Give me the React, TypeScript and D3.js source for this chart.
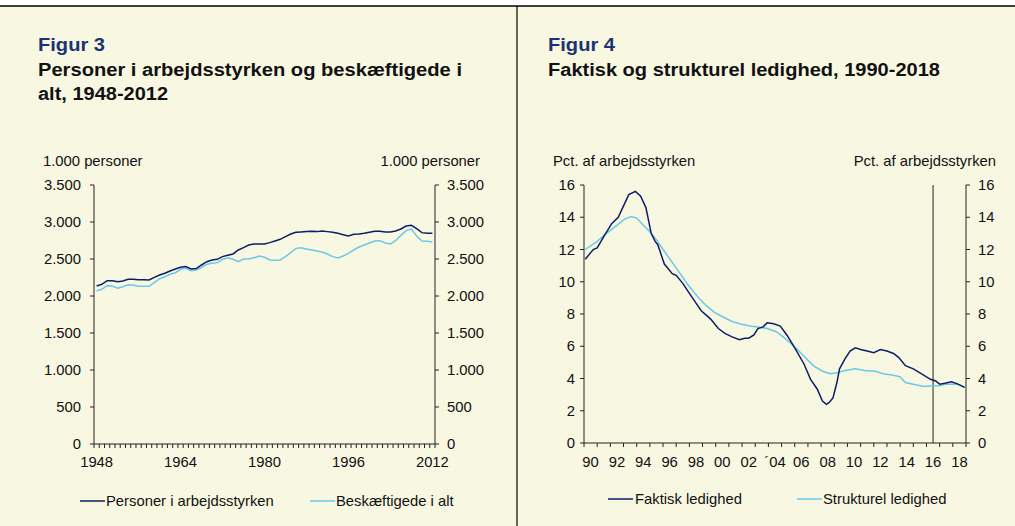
import * as d3 from "d3";
import { useMemo } from "react";

// Figur 3: annual, 1000 persons
const years3 = d3.range(1948, 2013);
const arbejdsstyrke = [
  2135, 2158, 2207, 2207, 2194, 2203, 2225, 2225, 2221, 2221, 2216, 2252, 2284, 2307, 2338, 2365, 2388,
  2397, 2365, 2370, 2419, 2464, 2487, 2496, 2532, 2550, 2568, 2622, 2653, 2689, 2703, 2703, 2703,
  2721, 2744, 2766, 2802, 2838, 2861, 2865, 2870, 2874, 2870, 2879, 2870, 2861, 2847, 2829, 2811,
  2834, 2838, 2847, 2861, 2874, 2874, 2865, 2865, 2879, 2906, 2946, 2955, 2910, 2856, 2847, 2847,
];
const beskaeftigede = [
  2072, 2090, 2140, 2135, 2104, 2126, 2153, 2144, 2131, 2131, 2131, 2180, 2234, 2261, 2293, 2315, 2361,
  2374, 2343, 2352, 2388, 2428, 2442, 2451, 2496, 2518, 2496, 2464, 2500, 2500, 2518, 2541, 2523,
  2487, 2482, 2487, 2532, 2586, 2644, 2653, 2635, 2622, 2608, 2595, 2568, 2532, 2514, 2541, 2577,
  2622, 2662, 2689, 2716, 2744, 2748, 2716, 2703, 2748, 2820, 2883, 2906, 2811, 2744, 2739, 2730,
];
const ticks3 = [0, 500, 1000, 1500, 2000, 2500, 3000, 3500];
const labelYears3 = [1948, 1964, 1980, 1996, 2012];

// Figur 4: pct. of labour force, read at decimal years
const faktiskT = [
  1990.1, 1990.7, 1991.0, 1991.5, 1992.1, 1992.6, 1993.4, 1993.9, 1994.3, 1994.7, 1995.1, 1995.4, 1995.6,
  1996.1, 1996.7, 1997.0, 1997.5, 1997.9, 1998.4, 1998.9, 1999.6, 2000.2, 2000.7, 2001.2, 2001.8, 2002.2,
  2002.5, 2002.9, 2003.2, 2003.6, 2003.9, 2004.4, 2004.9, 2005.4, 2006.0, 2006.7, 2007.2, 2007.7, 2008.1,
  2008.4, 2008.6, 2008.9, 2009.2, 2009.4, 2009.8, 2010.2, 2010.6, 2011.0, 2011.5, 2012.0, 2012.5, 2013.0,
  2013.5, 2013.9, 2014.4, 2015.0, 2015.6, 2016.3, 2016.7, 2017.0, 2017.4, 2017.9, 2018.4, 2018.9,
];
const faktiskV = [
  11.4, 12.0, 12.1, 12.8, 13.6, 14.0, 15.4, 15.6, 15.3, 14.6, 13.0, 12.5, 12.3,
  11.1, 10.5, 10.4, 9.9, 9.4, 8.8, 8.2, 7.7, 7.1, 6.8, 6.6, 6.4, 6.5,
  6.5, 6.7, 7.1, 7.2, 7.45, 7.4, 7.25, 6.7, 5.9, 4.9, 3.95, 3.35, 2.6,
  2.4, 2.5, 2.8, 3.75, 4.6, 5.2, 5.7, 5.9, 5.8, 5.7, 5.6, 5.8, 5.7,
  5.55, 5.3, 4.8, 4.6, 4.3, 3.95, 3.85, 3.65, 3.7, 3.8, 3.65, 3.45,
];
const strukturelT = [
  1990.1, 1991.0, 1991.7, 1992.5, 1993.1, 1993.6, 1994.0, 1994.5, 1995.0, 1995.5, 1996.0, 1996.7, 1997.3,
  1997.9, 1998.6, 1999.3, 1999.9, 2000.6, 2001.2, 2001.8, 2002.6, 2003.2, 2003.9, 2004.6, 2005.1, 2005.6,
  2006.2, 2006.8, 2007.4, 2008.1, 2008.7, 2009.2, 2009.8, 2010.6, 2011.3, 2012.1, 2012.7, 2013.5, 2014.0,
  2014.4, 2015.0, 2015.8, 2016.5, 2017.0, 2017.5, 2018.3, 2018.9,
];
const strukturelV = [
  12.0, 12.5, 13.0, 13.5, 13.9, 14.05, 13.95, 13.5, 13.1, 12.6, 12.0, 11.2, 10.5,
  9.8, 9.1, 8.5, 8.1, 7.8, 7.55, 7.4, 7.25, 7.2, 7.1, 6.9, 6.6, 6.25,
  5.8, 5.3, 4.8, 4.45, 4.3, 4.35, 4.5, 4.6, 4.5, 4.45, 4.3, 4.2, 4.1,
  3.75, 3.65, 3.5, 3.55, 3.55, 3.65, 3.65, 3.45,
];
const ticks4 = [0, 2, 4, 6, 8, 10, 12, 14, 16];
const labelYears4 = ["90", "92", "94", "96", "98", "00", "02", "´04", "06", "08", "10", "12", "14", "16", "18"];
const forecastStart = 2016.5;

const BG = "#f8f7e1";
const DARK = "#0b1f66";
const LIGHT = "#6cc8e8";
const TITLE_BLUE = "#1b3373";
const FONT = "'Liberation Sans', Arial, Helvetica, sans-serif";
const FS = 14.8;
const TS = 17.5;

function Title({ x, y, w, fill = "#111", children }: { x: number; y: number; w: number; fill?: string; children: string }) {
  return (
    <text x={x} y={y} fontSize={TS} fontWeight="bold" fill={fill} textLength={w} lengthAdjust="spacingAndGlyphs">
      {children}
    </text>
  );
}

function Figur3() {
  const left = 94, right = 435, top = 185, bottom = 444;
  const x = useMemo(() => d3.scaleBand<number>().domain(years3).range([left, right]), []);
  const y = useMemo(() => d3.scaleLinear().domain([0, 3500]).range([bottom, top]), []);
  const cx = (yr: number) => (x(yr) ?? 0) + x.bandwidth() / 2;
  const line = d3.line<number>().x((_, i) => cx(years3[i])).y((v) => y(v));
  const fmt = (v: number) => d3.format(",")(v).replace(/,/g, ".");
  const boundaries = [...years3.map((yr) => x(yr) ?? 0), right];

  return (
    <g fontFamily={FONT} fontSize={FS} fill="#111">
      <Title x={38} y={51} w={67} fill={TITLE_BLUE}>Figur 3</Title>
      <Title x={38} y={76} w={424}>Personer i arbejdsstyrken og beskæftigede i</Title>
      <Title x={38} y={100} w={130}>alt, 1948-2012</Title>

      <text x={43} y={166}>1.000 personer</text>
      <text x={480} y={166} textAnchor="end">1.000 personer</text>

      {ticks3.map((t) => (
        <g key={t}>
          <line x1={left - 4} x2={left} y1={y(t)} y2={y(t)} stroke="#222" />
          <line x1={right} x2={right + 4} y1={y(t)} y2={y(t)} stroke="#222" />
          <text x={left - 13} y={y(t) + 5} textAnchor="end">{fmt(t)}</text>
          <text x={right + 12} y={y(t) + 5}>{fmt(t)}</text>
        </g>
      ))}
      <line x1={left} x2={left} y1={top} y2={bottom} stroke="#222" />
      <line x1={right} x2={right} y1={top} y2={bottom} stroke="#222" />
      <line x1={left} x2={right} y1={bottom} y2={bottom} stroke="#222" />
      {boundaries.map((bx, i) => (
        <line key={i} x1={bx} x2={bx} y1={bottom} y2={bottom + 4} stroke="#222" />
      ))}
      {labelYears3.map((yr) => (
        <text key={yr} x={cx(yr)} y={467} textAnchor="middle">{yr}</text>
      ))}

      <path d={line(beskaeftigede) ?? ""} fill="none" stroke={LIGHT} strokeWidth={1.5} />
      <path d={line(arbejdsstyrke) ?? ""} fill="none" stroke={DARK} strokeWidth={1.5} />

      <line x1={80} x2={105} y1={501} y2={501} stroke={DARK} strokeWidth={1.5} />
      <text x={106} y={506}>Personer i arbejdsstyrken</text>
      <line x1={310} x2={335} y1={501} y2={501} stroke={LIGHT} strokeWidth={1.5} />
      <text x={336} y={506}>Beskæftigede i alt</text>
    </g>
  );
}

function Figur4() {
  const left = 584, right = 966, top = 185, bottom = 443;
  const x = useMemo(() => d3.scaleLinear().domain([1990, 2019]).range([left, right]), []);
  const y = useMemo(() => d3.scaleLinear().domain([0, 16]).range([bottom, top]), []);
  const lineF = d3.line<number>().x((_, i) => x(faktiskT[i])).y((v) => y(v));
  const lineS = d3.line<number>().x((_, i) => x(strukturelT[i])).y((v) => y(v));
  const yearTicks = d3.range(1990, 2020);

  return (
    <g fontFamily={FONT} fontSize={FS} fill="#111">
      <Title x={548} y={51} w={67} fill={TITLE_BLUE}>Figur 4</Title>
      <Title x={548} y={76} w={392}>Faktisk og strukturel ledighed, 1990-2018</Title>

      <text x={553} y={166}>Pct. af arbejdsstyrken</text>
      <text x={996} y={166} textAnchor="end">Pct. af arbejdsstyrken</text>

      {ticks4.map((t) => (
        <g key={t}>
          <line x1={left - 4} x2={left} y1={y(t)} y2={y(t)} stroke="#222" />
          <line x1={right} x2={right + 4} y1={y(t)} y2={y(t)} stroke="#222" />
          <text x={left - 9} y={y(t) + 5} textAnchor="end">{t}</text>
          <text x={right + 12} y={y(t) + 5}>{t}</text>
        </g>
      ))}
      <line x1={left} x2={left} y1={top} y2={bottom} stroke="#222" />
      <line x1={right} x2={right} y1={top} y2={bottom} stroke="#222" />
      <line x1={left} x2={right} y1={bottom} y2={bottom} stroke="#222" />
      {yearTicks.map((yr) => (
        <line key={yr} x1={x(yr)} x2={x(yr)} y1={bottom} y2={bottom + 4} stroke="#222" />
      ))}
      {labelYears4.map((lab, i) => (
        <text key={lab} x={x(1990 + 2 * i + 0.5)} y={467} textAnchor="middle">{lab}</text>
      ))}
      <line x1={x(forecastStart)} x2={x(forecastStart)} y1={top} y2={bottom} stroke="#222" />

      <path d={lineS(strukturelV) ?? ""} fill="none" stroke={LIGHT} strokeWidth={1.5} />
      <path d={lineF(faktiskV) ?? ""} fill="none" stroke={DARK} strokeWidth={1.5} />

      <line x1={608} x2={633} y1={499} y2={499} stroke={DARK} strokeWidth={1.5} />
      <text x={635} y={504}>Faktisk ledighed</text>
      <line x1={797} x2={822} y1={499} y2={499} stroke={LIGHT} strokeWidth={1.5} />
      <text x={823} y={504}>Strukturel ledighed</text>
    </g>
  );
}

export default function App() {
  return (
    <svg
      width={1015}
      height={526}
      style={{ position: "absolute", left: 0, top: 0, display: "block" }}
    >
      <rect x={0} y={0} width={1015} height={526} fill="#fff" />
      <rect x={0} y={6} width={1015} height={520} fill={BG} />
      <line x1={0} x2={1015} y1={6} y2={6} stroke="#000" strokeWidth={1.5} />
      <line x1={517} x2={517} y1={6} y2={526} stroke="#000" strokeWidth={1.2} />
      <Figur3 />
      <Figur4 />
    </svg>
  );
}
